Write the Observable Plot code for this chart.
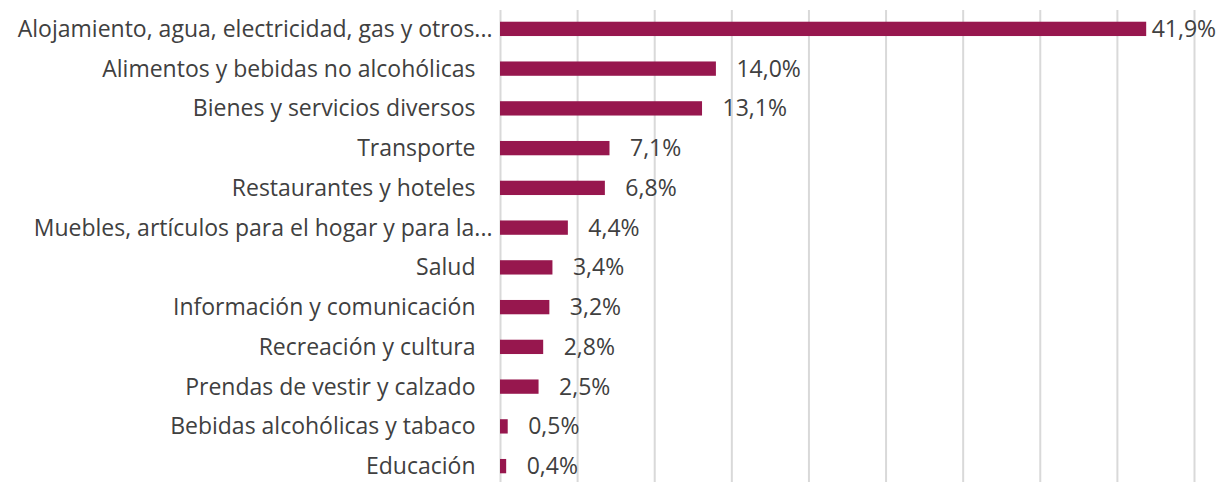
<!DOCTYPE html>
<html>
<head>
<meta charset="utf-8">
<script src="https://cdn.jsdelivr.net/npm/d3@7"></script>
<script src="https://cdn.jsdelivr.net/npm/@observablehq/plot@0.6"></script>
<style>
  html, body { margin: 0; padding: 0; background: #fff; }
  #chart svg { display: block; }
</style>
</head>
<body>
<div id="chart"></div>
<script>
const categories = [
  "Alojamiento, agua, electricidad, gas y otros...",
  "Alimentos y bebidas no alcohólicas",
  "Bienes y servicios diversos",
  "Transporte",
  "Restaurantes y hoteles",
  "Muebles, artículos para el hogar y para la...",
  "Salud",
  "Información y comunicación",
  "Recreación y cultura",
  "Prendas de vestir y calzado",
  "Bebidas alcohólicas y tabaco",
  "Educación"
];
const values = [41.9, 14.0, 13.1, 7.1, 6.8, 4.4, 3.4, 3.2, 2.8, 2.5, 0.5, 0.4];
const gridTicks = [0, 5, 10, 15, 20, 25, 30, 35, 40, 45];

const data = categories.map((c, i) => ({category: c, value: values[i], truncated: c.endsWith("...")}));
const fmt = v => v.toFixed(1).replace(".", ",") + "%";
const barColor = "#97174e";
const textColor = "#404040";
const font = "'Open Sans', Lato, sans-serif";

const chart = Plot.plot({
  width: 1217,
  height: 482,
  marginLeft: 500,
  marginRight: 23,
  marginTop: 10,
  marginBottom: 0,
  style: {fontFamily: font, fontSize: "23px", color: textColor, background: "#fff"},
  x: {domain: [0, 45], axis: null},
  y: {domain: categories, axis: null, paddingInner: 0.64, paddingOuter: 0.32, range: [9, 486], round: false},
  marks: [
    Plot.ruleX(gridTicks, {stroke: "#d9d9d9", strokeWidth: 2, strokeOpacity: 1}),
    Plot.barX(data, {x: "value", y: "category", fill: barColor}),
    Plot.text(data.filter(d => !d.truncated), {x: 0, y: "category", text: "category", textAnchor: "end", dx: -25, fill: textColor}),
    Plot.text(data.filter(d => d.truncated), {x: 0, y: "category", text: "category", textAnchor: "end", dx: -8, fill: textColor}),
    Plot.text(data.filter(d => d.value < 40), {x: "value", y: "category", text: d => fmt(d.value), textAnchor: "start", dx: 20, fill: textColor}),
    Plot.text(data.filter(d => d.value >= 40), {x: "value", y: "category", text: d => fmt(d.value), textAnchor: "start", dx: 5, fill: textColor})
  ]
});
document.getElementById("chart").append(chart);
</script>
</body>
</html>
